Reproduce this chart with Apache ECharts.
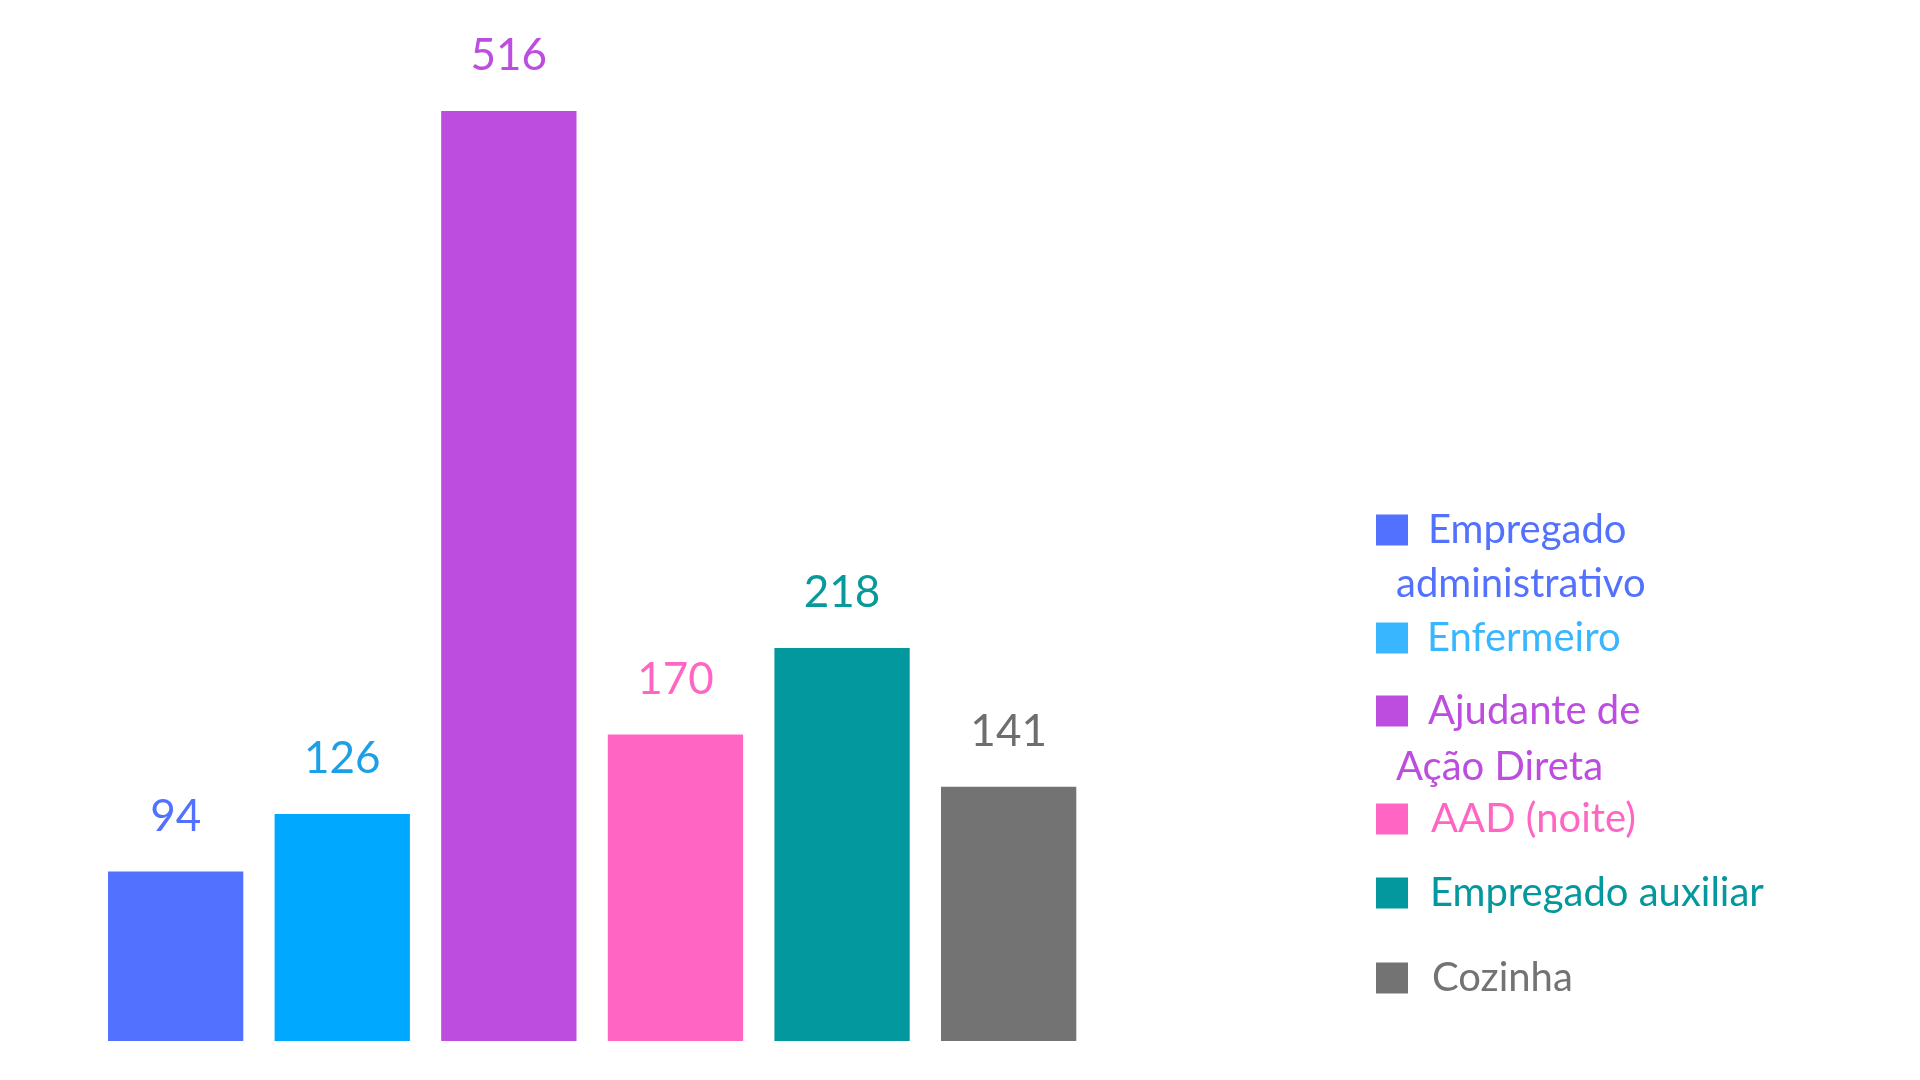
<!DOCTYPE html>
<html>
<head>
<meta charset="utf-8">
<script src="https://cdn.jsdelivr.net/npm/echarts@6/dist/echarts.min.js"></script>
<style>
html,body{margin:0;padding:0;background:#fff;}
#c{width:1920px;height:1080px;}
</style>
</head>
<body>
<div id="c"></div>
<script>
const categories = ['Empregado administrativo', 'Enfermeiro', 'Ajudante de Ação Direta', 'AAD (noite)', 'Empregado auxiliar', 'Cozinha'];
const values = [94, 126, 516, 170, 218, 141];
const barColors = ['#5271ff', '#00a9ff', '#bd4dde', '#ff66c4', '#03989e', '#737373'];
const labelColors = ['#5271ff', '#1a9fe8', '#bd4dde', '#ff66c4', '#08999b', '#6e6e6e'];
const legendIconColors = ['#5271ff', '#38b6ff', '#bd4dde', '#ff66c4', '#03989e', '#737373'];
const legendTextColors = ['#5271ff', '#38b6ff', '#bd4dde', '#ff66c4', '#03989e', '#737373'];
const legendLines = [['Empregado', 'administrativo'], ['Enfermeiro'], ['Ajudante de', 'Ação Direta'], ['AAD (noite)'], ['Empregado auxiliar'], ['Cozinha']];

const FONT = 'Lato';
const series = categories.map((name, i) => ({
  name: name,
  type: 'bar',
  stack: 'all',
  barWidth: 135.3,
  itemStyle: { color: barColors[i] },
  label: {
    show: true,
    position: 'top',
    distance: 33,
    fontFamily: FONT,
    fontSize: 44,
    color: labelColors[i]
  },
  data: values.map((v, j) => (j === i ? v : '-'))
}));

// legend icon vertical centers
const legendCenters = [530, 638, 711, 819, 893, 978];
const twoLineHeights = [54, 0, 56, 0, 0, 0];
const singlePadLeft = [0, 14, 0, 18, 17, 19];
const singlePadTop = [0, 5, 0, 16, 10, 6];

const legends = categories.map((name, i) => {
  const lines = legendLines[i];
  const base = {
    left: 1376,
    orient: 'vertical',
    padding: 0,
    itemWidth: 32,
    itemHeight: 31,
    icon: 'rect',
    data: [{ name: name, itemStyle: { color: legendIconColors[i] } }],
    selectedMode: false
  };
  if (lines.length === 2) {
    const lh = twoLineHeights[i];
    return Object.assign(base, {
      top: legendCenters[i] - lh * 1.5,
      formatter: () => '{a|' + lines[0] + '}\n{b|' + lines[1] + '}',
      textStyle: {
        fontFamily: FONT,
        fontSize: 40,
        lineHeight: lh,
        color: legendTextColors[i],
        padding: [lh, 0, 0, -17],
        backgroundColor: 'rgba(0,0,0,0)',
        rich: {
          a: { fontFamily: FONT, fontSize: 40, lineHeight: lh, color: legendTextColors[i], padding: [0, 0, 0, 32] },
          b: { fontFamily: FONT, fontSize: 40, lineHeight: lh, color: legendTextColors[i] }
        }
      }
    });
  }
  const pt = singlePadTop[i];
  return Object.assign(base, {
    top: legendCenters[i] - 22 - pt / 2,
    textStyle: {
      fontFamily: FONT,
      fontSize: 40,
      lineHeight: 44,
      color: legendTextColors[i],
      padding: [pt, 0, 0, singlePadLeft[i]],
      backgroundColor: 'rgba(0,0,0,0)'
    }
  });
});

const chart = echarts.init(document.getElementById('c'), null, { renderer: 'canvas' });
chart.setOption({
  backgroundColor: '#ffffff',
  animation: false,
  grid: { left: 92.35, width: 999.6, top: 111, bottom: 39, containLabel: false },
  xAxis: { type: 'category', data: categories, show: false },
  yAxis: { type: 'value', min: 0, max: 516, show: false },
  legend: legends,
  series: series
});
</script>
</body>
</html>
